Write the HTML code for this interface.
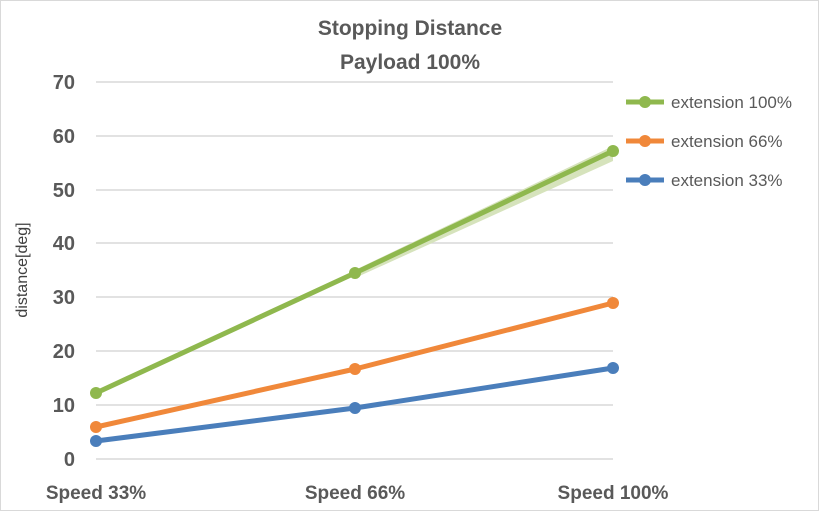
<!DOCTYPE html>
<html><head><style>
body{margin:0;background:#fff}
svg{display:block}
text{font-family:"Liberation Sans",sans-serif}
</style></head><body>
<svg width="819" height="511" viewBox="0 0 819 511">
<rect x="0.5" y="0.5" width="818" height="510" fill="#fff" stroke="#d9d9d9"/>
<text x="410" y="35" text-anchor="middle" font-size="21" font-weight="bold" fill="#595959">Stopping Distance</text>
<text x="410" y="69" text-anchor="middle" font-size="21" font-weight="bold" fill="#595959">Payload 100%</text>
<g stroke="#d9d9d9" stroke-width="1.5">
<line x1="96" x2="613" y1="82" y2="82"/><line x1="96" x2="613" y1="136" y2="136"/>
<line x1="96" x2="613" y1="190" y2="190"/><line x1="96" x2="613" y1="243" y2="243"/>
<line x1="96" x2="613" y1="297" y2="297"/><line x1="96" x2="613" y1="351" y2="351"/>
<line x1="96" x2="613" y1="405" y2="405"/><line x1="96" x2="613" y1="459" y2="459"/>
</g>
<g font-size="20" font-weight="bold" fill="#595959" text-anchor="end">
<text x="75" y="89">70</text><text x="75" y="143">60</text><text x="75" y="197">50</text>
<text x="75" y="250">40</text><text x="75" y="304">30</text><text x="75" y="358">20</text>
<text x="75" y="412">10</text><text x="75" y="466">0</text>
</g>
<text transform="translate(27,270) rotate(-90)" text-anchor="middle" font-size="16" fill="#404040">distance[deg]</text>
<g font-size="19" font-weight="bold" fill="#595959" text-anchor="middle">
<text x="96" y="499">Speed 33%</text><text x="355" y="499">Speed 66%</text><text x="613" y="499">Speed 100%</text>
</g>
<polygon points="355,270 613,146 613,161 355,278" fill="#d6e3bc"/>
<g stroke-width="5" fill="none" stroke-linejoin="round">
<polyline points="96,393 355,273 613,151" stroke="#8fb84e"/>
<polyline points="96,427 355,369 613,303" stroke="#f0883a"/>
<polyline points="96,441 355,408 613,368" stroke="#4a7ebb"/>
</g>
<g fill="#8fb84e"><circle cx="96" cy="393" r="6"/><circle cx="355" cy="273" r="6"/><circle cx="613" cy="151" r="6"/></g>
<g fill="#f0883a"><circle cx="96" cy="427" r="6"/><circle cx="355" cy="369" r="6"/><circle cx="613" cy="303" r="6"/></g>
<g fill="#4a7ebb"><circle cx="96" cy="441" r="6"/><circle cx="355" cy="408" r="6"/><circle cx="613" cy="368" r="6"/></g>
<g stroke-width="5">
<line x1="626" x2="664" y1="102" y2="102" stroke="#8fb84e"/>
<line x1="626" x2="664" y1="141" y2="141" stroke="#f0883a"/>
<line x1="626" x2="664" y1="180" y2="180" stroke="#4a7ebb"/>
</g>
<circle cx="645" cy="102" r="6" fill="#8fb84e"/><circle cx="645" cy="141" r="6" fill="#f0883a"/><circle cx="645" cy="180" r="6" fill="#4a7ebb"/>
<g font-size="17" fill="#595959">
<text x="671" y="108">extension 100%</text><text x="671" y="147">extension 66%</text><text x="671" y="186">extension 33%</text>
</g>
</svg>
</body></html>
